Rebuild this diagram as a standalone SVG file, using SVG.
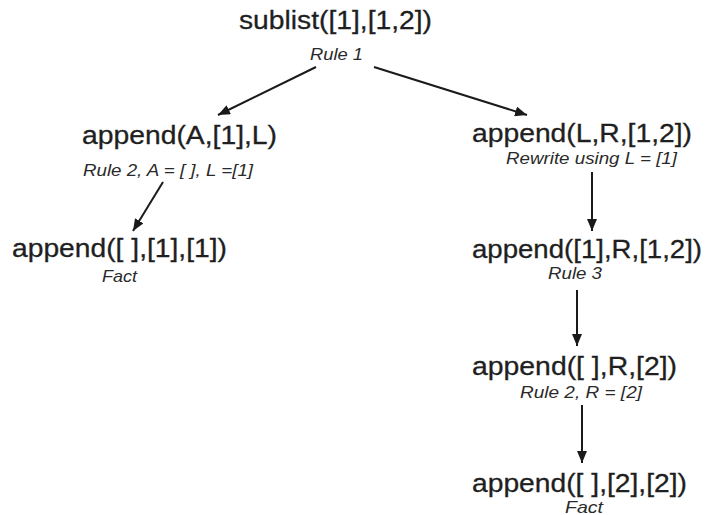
<svg xmlns="http://www.w3.org/2000/svg" width="711" height="515" viewBox="0 0 711 515">
<defs>
<marker id="ah" viewBox="0 0 12 10" refX="12" refY="5" markerWidth="12" markerHeight="10" markerUnits="userSpaceOnUse" orient="auto">
<path d="M0,0 L12,5 L0,10 Z" fill="#1a1a1a"/>
</marker>
</defs>
<style>
.t{font-family:"Liberation Sans",Arial,sans-serif;font-size:25px;fill:#1f1f1f;stroke:#1f1f1f;stroke-width:0.3}
.l{font-family:"Liberation Sans",Arial,sans-serif;font-size:17px;font-style:italic;fill:#2a2a2a}
.c{stroke:#1a1a1a;stroke-width:2;fill:none;marker-end:url(#ah)}
</style>
<rect width="711" height="515" fill="#ffffff"/>
<g id="n0"><text class="t" x="239" y="29" textLength="193" lengthAdjust="spacingAndGlyphs">sublist([1],[1,2])</text><text class="l" x="310" y="60" textLength="53" lengthAdjust="spacingAndGlyphs">Rule 1</text></g>
<g id="n1"><text class="t" x="82" y="144" textLength="195" lengthAdjust="spacingAndGlyphs">append(A,[1],L)</text><text class="l" x="83" y="176" textLength="170" lengthAdjust="spacingAndGlyphs">Rule 2, A = [ ], L =[1]</text></g>
<g id="n2"><text class="t" x="12" y="257" textLength="215" lengthAdjust="spacingAndGlyphs">append([ ],[1],[1])</text><text class="l" x="102" y="282" textLength="35" lengthAdjust="spacingAndGlyphs">Fact</text></g>
<g id="n3"><text class="t" x="472" y="142" textLength="220" lengthAdjust="spacingAndGlyphs">append(L,R,[1,2])</text><text class="l" x="506" y="164" textLength="171" lengthAdjust="spacingAndGlyphs">Rewrite using L = [1]</text></g>
<g id="n4"><text class="t" x="472" y="258" textLength="230" lengthAdjust="spacingAndGlyphs">append([1],R,[1,2])</text><text class="l" x="548" y="279" textLength="54" lengthAdjust="spacingAndGlyphs">Rule 3</text></g>
<g id="n5"><text class="t" x="472" y="375" textLength="205" lengthAdjust="spacingAndGlyphs">append([ ],R,[2])</text><text class="l" x="520" y="398" textLength="122" lengthAdjust="spacingAndGlyphs">Rule 2, R = [2]</text></g>
<g id="n6"><text class="t" x="472" y="492" textLength="215" lengthAdjust="spacingAndGlyphs">append([ ],[2],[2])</text><text class="l" x="565" y="513" textLength="38" lengthAdjust="spacingAndGlyphs">Fact</text></g>
<g id="connectors">
<line class="c" x1="316" y1="67" x2="218" y2="115"/>
<line class="c" x1="374" y1="67" x2="527" y2="115"/>
<line class="c" x1="163" y1="182" x2="133" y2="231"/>
<line class="c" x1="592" y1="172" x2="592" y2="231"/>
<line class="c" x1="577" y1="290" x2="577" y2="346"/>
<line class="c" x1="582" y1="405" x2="582" y2="463"/>
</g>
</svg>
